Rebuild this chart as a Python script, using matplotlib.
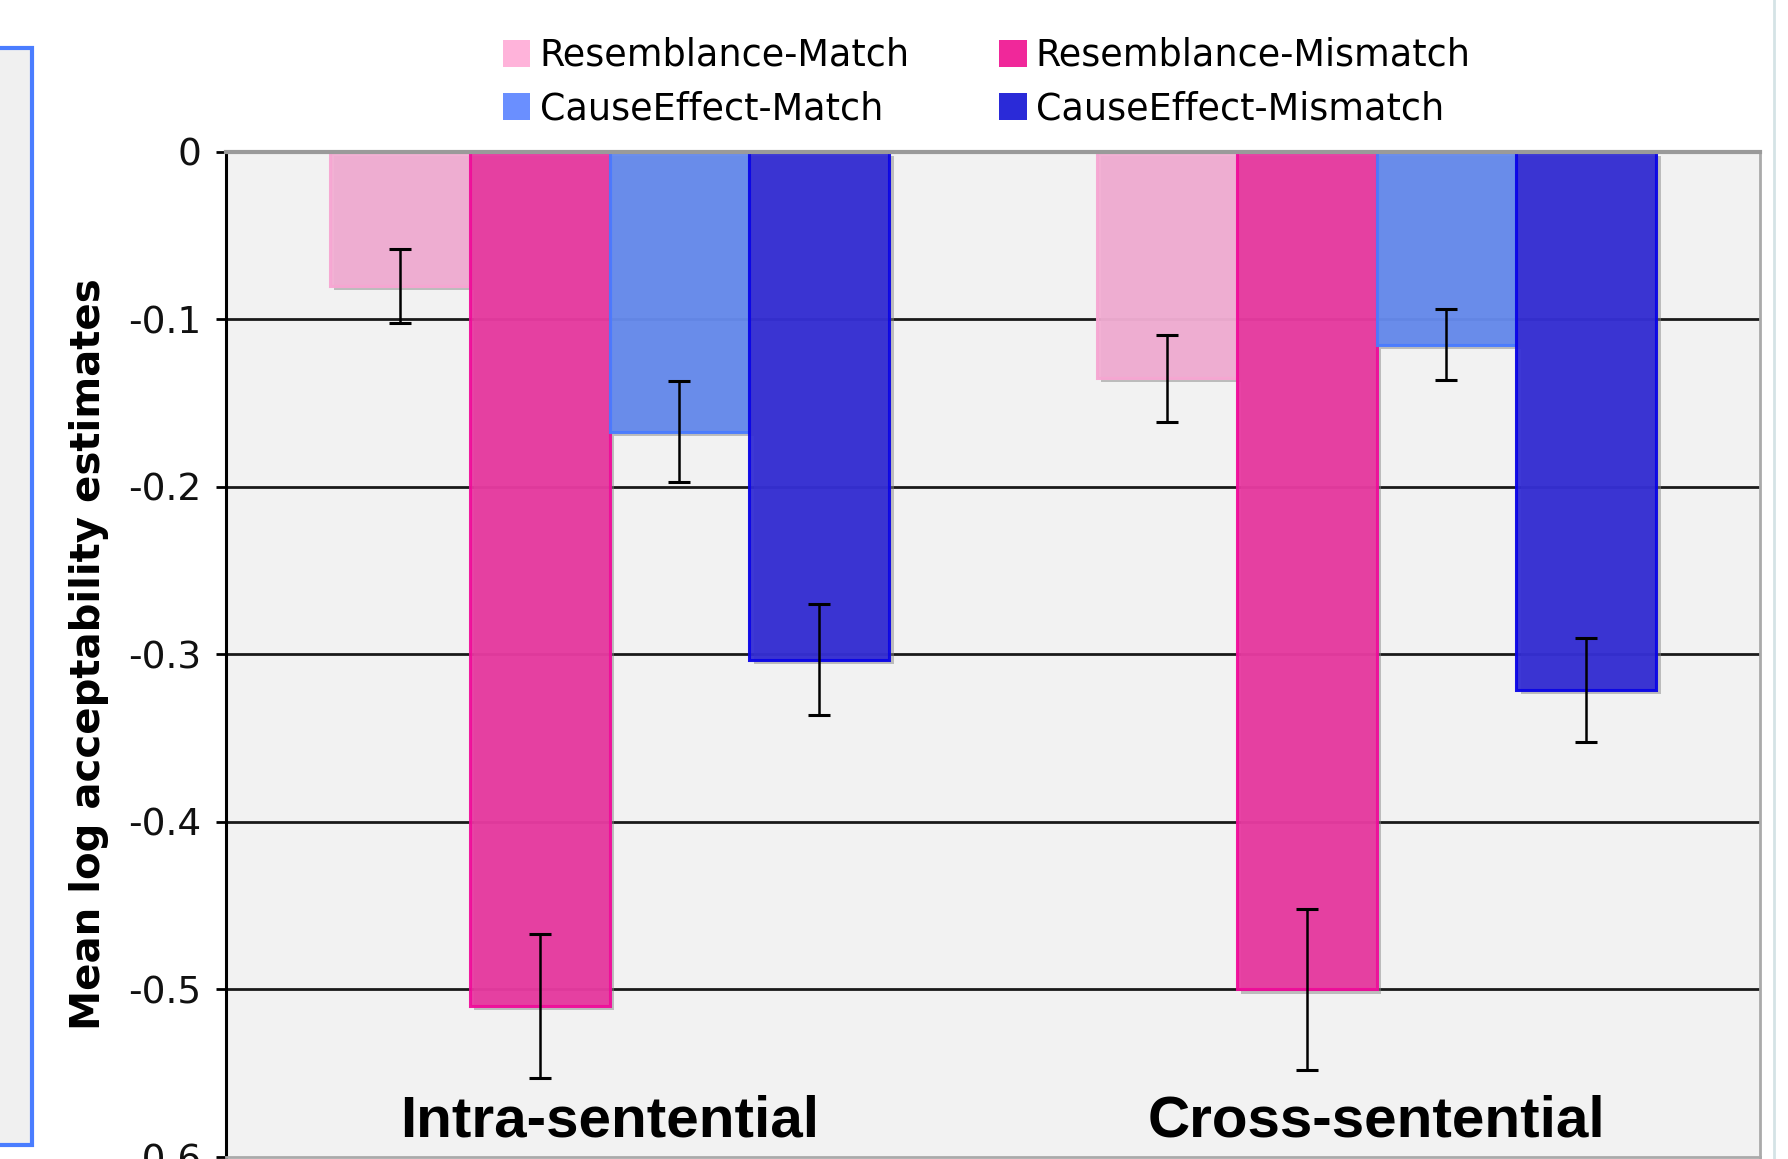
import matplotlib
matplotlib.use("Agg")
import matplotlib.pyplot as plt
import matplotlib.patheffects as pe
from matplotlib.patches import Patch, Rectangle
from matplotlib.lines import Line2D
import numpy as np

# ---- data ----
groups = ["Intra-sentential", "Cross-sentential"]
series = ["Resemblance-Match", "Resemblance-Mismatch", "CauseEffect-Match", "CauseEffect-Mismatch"]
means = {
    "Resemblance-Match":    [-0.080, -0.135],
    "Resemblance-Mismatch": [-0.510, -0.500],
    "CauseEffect-Match":    [-0.167, -0.115],
    "CauseEffect-Mismatch": [-0.303, -0.321],
}
errors = {
    "Resemblance-Match":    [0.022, 0.026],
    "Resemblance-Mismatch": [0.043, 0.048],
    "CauseEffect-Match":    [0.030, 0.021],
    "CauseEffect-Mismatch": [0.033, 0.031],
}
yticks = [0, -0.1, -0.2, -0.3, -0.4, -0.5, -0.6]
ytick_labels = ["0", "-0.1", "-0.2", "-0.3", "-0.4", "-0.5", "-0.6"]

# ---- styles ----
face = {
    "Resemblance-Match":    "#F2ADD3",
    "Resemblance-Mismatch": "#E838A0",
    "CauseEffect-Match":    "#6489EE",
    "CauseEffect-Mismatch": "#322CD4",
}
edge = {
    "Resemblance-Match":    "#F7A6D2",
    "Resemblance-Mismatch": "#F00C9A",
    "CauseEffect-Match":    "#4A7BFF",
    "CauseEffect-Mismatch": "#0A04E6",
}
legend_col = {
    "Resemblance-Match":    "#FFB3DA",
    "Resemblance-Mismatch": "#F0289A",
    "CauseEffect-Match":    "#6A8FFF",
    "CauseEffect-Mismatch": "#2A2AD8",
}

W, H = 1788, 1159
fig = plt.figure(figsize=(W / 100, H / 100), dpi=100)
fig.patch.set_facecolor("white")

ax = fig.add_axes([226 / W, 1 - 1157 / H, (1760 - 226) / W, (1157 - 152) / H])
ax.set_facecolor("#F2F2F2")
ax.set_xlim(-0.5, 1.5)
ax.set_ylim(-0.6, 0)

# gridlines
for yv in yticks[1:-1]:
    ax.axhline(yv, color="#1a1a1a", lw=2.0, zorder=1)

x = np.arange(len(groups))
w = 0.1825
offsets = [-1.5 * w, -0.5 * w, 0.5 * w, 1.5 * w]
shadow = [pe.SimplePatchShadow(offset=(3, -3), shadow_rgbFace="#888888", alpha=0.5), pe.Normal()]
for s, off in zip(series, offsets):
    bars = ax.bar(x + off, means[s], width=w, color=face[s], edgecolor=edge[s],
                  linewidth=2.2, alpha=0.94, zorder=2)
    for b in bars:
        b.set_path_effects(shadow)
    ax.errorbar(x + off, means[s], yerr=errors[s], fmt="none", ecolor="black",
                elinewidth=1.8, capsize=8, capthick=2.2, zorder=4)

# spines
ax.spines["left"].set_color("black")
ax.spines["left"].set_linewidth(2.2)
ax.spines["top"].set_color("#9a9a9a")
ax.spines["top"].set_linewidth(3)
ax.spines["right"].set_color("#aaaaaa")
ax.spines["right"].set_linewidth(2)
ax.spines["bottom"].set_color("#aaaaaa")
ax.spines["bottom"].set_linewidth(2)

ax.set_xticks([])
ax.set_yticks(yticks)
ax.set_yticklabels(ytick_labels, fontsize=27, family="DejaVu Sans", color="#111111")
ax.tick_params(axis="y", direction="out", length=7, width=2, pad=11, color="black")

ax.set_ylabel("Mean log acceptability estimates", fontsize=29, fontweight="bold",
              family="DejaVu Sans", va="center")
ax.yaxis.set_label_coords((89 - 226) / (1760 - 226), 0.5)

for xi, g in zip(x, groups):
    ax.text(xi, -0.588, g, ha="center", va="baseline", fontsize=42,
            fontweight="bold", family="Liberation Sans", zorder=5)

# legend
order = [0, 2, 1, 3]
handles = [Patch(facecolor=legend_col[series[i]], edgecolor="none") for i in order]
labels = [series[i] for i in order]
fig.legend(handles, labels, ncol=2, loc="upper left",
           bbox_to_anchor=(503 / W, 1 - 37 / H), frameon=False,
           prop={"family": "DejaVu Sans", "size": 26.3},
           handlelength=0.75, handleheight=0.75, handletextpad=0.25,
           columnspacing=2.45, labelspacing=0.44, borderpad=0, borderaxespad=0)

# left neighbouring panel fragment
fig.patches.append(Rectangle((-0.01, 1 - 1145 / H), 0.01 + 32 / W, (1145 - 48) / H,
                             transform=fig.transFigure, facecolor="#F0F0F0",
                             edgecolor="#4A7DFF", lw=3, zorder=0))
# faint right border line
fig.add_artist(Line2D([1774 / W, 1774 / W], [0, 1], transform=fig.transFigure,
                      color="#d5e3e6", lw=2))

fig.savefig("out.png", dpi=100)
